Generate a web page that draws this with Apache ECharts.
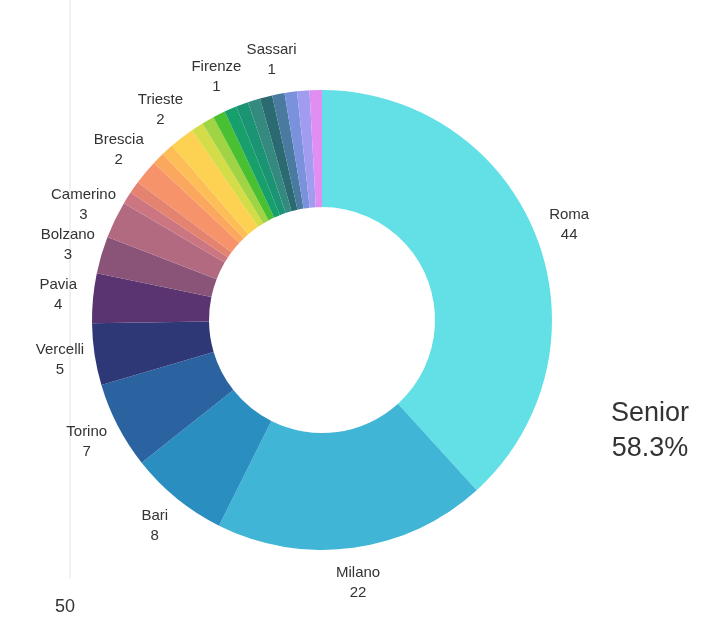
<!DOCTYPE html>
<html>
<head>
<meta charset="utf-8">
<script src="https://cdn.jsdelivr.net/npm/echarts@6/dist/echarts.min.js"></script>
<style>
html,body{margin:0;padding:0;background:#fff;}
#c{width:704px;height:623px;}
</style>
</head>
<body>
<div id="c"></div>
<script>
// Categories (clockwise from top); unlabeled slices carry no visible label in the reference
const cities = ["Roma","Milano","Bari","Torino","Vercelli","Pavia","Bolzano","Camerino",
  "Altra sede A","Altra sede B","Brescia","Altra sede C","Altra sede D","Trieste",
  "Altra sede E","Altra sede F","Altra sede G","Firenze","Altra sede H","Altra sede I","Altra sede J",
  "Sassari","Altra sede K","Altra sede L","Altra sede M"];
const counts = [44,22,8,7,5,4,3,3,
  1,1,2,1,1,2,
  1,1,1,1,1,1,1,
  1,1,1,1];
const showLabel = [true,true,true,true,true,true,true,true,
  false,false,true,false,false,true,
  false,false,false,true,false,false,false,
  true,false,false,false];
const sliceColors = ["#62e0e6","#40b5d5","#2a8ec1","#2b63a1","#2f3877","#5a3470","#8a5478","#b26a80",
  "#cb7680","#e4836f","#f6936a","#fba85e","#fdbe58","#fdd252",
  "#d4dc48","#a0d444","#48c032","#17a06c","#1b9474","#358a80","#2c6a72",
  "#4a7aa0","#7a92dc","#a29cf0","#e08ef2"];
const sideNote = ["Senior", "58.3%"];
const axisTick = "50";

const mainData = cities.map((n,i)=>({name:n, value:counts[i], itemStyle:{color:sliceColors[i]}}));
const labelData = cities.map((n,i)=>({name:n, value:counts[i], label:{show:showLabel[i]}}));

const chart = echarts.init(document.getElementById('c'), null, {renderer:'canvas'});
chart.setOption({
  backgroundColor:'#ffffff',
  animation:false,
  graphic:[
    {type:'line', shape:{x1:70,y1:0,x2:70,y2:578}, style:{stroke:'#ececec', lineWidth:1.5}, silent:true},
    {type:'text', left:55, top:598, style:{text:axisTick, font:'18px "Liberation Sans", Arial, sans-serif', fill:'#333'}},
    {type:'text', left:611, top:396, style:{text:sideNote.join('\n'), font:'27px "Liberation Sans", Arial, sans-serif', fill:'#333', textAlign:'center', lineHeight:35}}
  ],
  series:[
    {
      type:'pie',
      center:[322,320],
      radius:[113,230],
      startAngle:90,
      clockwise:true,
      silent:true,
      itemStyle:{borderWidth:0},
      label:{show:false},
      labelLine:{show:false},
      data:mainData
    },
    {
      type:'pie',
      center:[322,320],
      radius:[252,272],
      startAngle:90,
      clockwise:true,
      silent:true,
      itemStyle:{color:'rgba(0,0,0,0)', borderWidth:0},
      labelLayout:{hideOverlap:false},
      label:{
        position:'inside',
        formatter:'{b}\n{c}',
        color:'#333',
        fontSize:15,
        lineHeight:20,
        fontFamily:'"Liberation Sans", Arial, sans-serif',
        align:'center'
      },
      labelLine:{show:false},
      data:labelData
    }
  ]
});
</script>
</body>
</html>
